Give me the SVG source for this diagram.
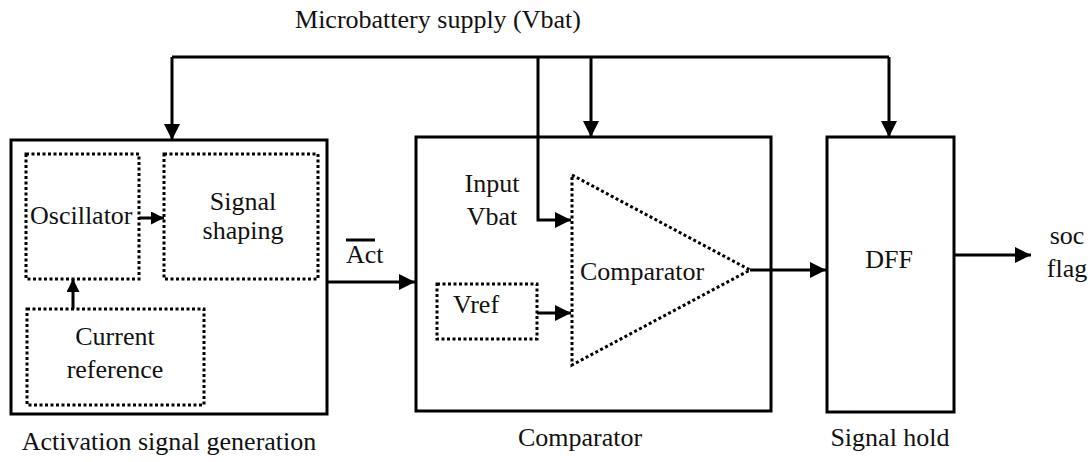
<svg xmlns="http://www.w3.org/2000/svg" width="1090" height="462" viewBox="0 0 1090 462">
<style>
text{font-family:"Liberation Serif","Times New Roman",serif;font-size:26px;fill:#111}
.box{fill:#fff;stroke:#000;stroke-width:3}
.dot{fill:none;stroke:#000;stroke-width:3;stroke-dasharray:3 2.5}
.w{fill:none;stroke:#000;stroke-width:3}
.m{text-anchor:middle}
</style>
<defs>
<marker id="a" markerUnits="userSpaceOnUse" markerWidth="18" markerHeight="18" refX="16" refY="8" orient="auto"><path d="M0,0 L16,8 L0,16 Z" fill="#000"/></marker>
<marker id="s" markerUnits="userSpaceOnUse" markerWidth="14" markerHeight="14" refX="13" refY="6.5" orient="auto"><path d="M0,0 L13,6.5 L0,13 Z" fill="#000"/></marker>
</defs>
<text class="m" x="438" y="28">Microbattery supply (Vbat)</text>
<g id="activation">
<rect class="box" x="11" y="140" width="316" height="274" stroke-width="4"/>
<text class="m" x="169" y="450">Activation signal generation</text>
</g>
<g id="oscillator"><rect class="dot" x="26" y="154" width="113" height="125"/><text x="30" y="224">Oscillator</text></g>
<g id="signal-shaping"><rect class="dot" x="164" y="154" width="154" height="125"/><text class="m" x="243" y="210">Signal</text><text class="m" x="243" y="239">shaping</text></g>
<g id="current-reference"><rect class="dot" x="27" y="309" width="177" height="96"/><text class="m" x="115" y="345">Current</text><text class="m" x="115" y="378">reference</text></g>
<g id="comparator-block">
<rect class="box" x="416" y="137" width="355" height="274"/>
<text class="m" x="580" y="446">Comparator</text>
<text class="m" x="492" y="192">Input</text><text class="m" x="492" y="225">Vbat</text>
</g>
<g id="vref"><rect class="dot" x="437" y="284" width="100" height="55"/><text x="453" y="313">Vref</text></g>
<g id="comparator"><path class="dot" d="M572,175 L750,270 L572,365 Z"/><text x="580" y="280">Comparator</text></g>
<g id="dff"><rect class="box" x="827" y="137" width="127" height="275"/><text class="m" x="889" y="268">DFF</text><text class="m" x="890" y="446">Signal hold</text></g>
<g id="output-label"><text class="m" x="1067" y="244">soc</text><text class="m" x="1067" y="277">flag</text></g>
<g id="act-label"><text x="346" y="263">Act</text><line class="w" x1="346" y1="240" x2="375" y2="240" stroke-width="2"/></g>
<g id="connectors">
<path class="w" d="M172,57 H889"/>
<path class="w" d="M172,57 V140" marker-end="url(#a)"/>
<path class="w" d="M591,57 V137" marker-end="url(#a)"/>
<path class="w" d="M889,57 V137" marker-end="url(#a)"/>
<path class="w" d="M538,57 V220 H571" marker-end="url(#a)"/>
<path class="w" d="M537,313 H571" marker-end="url(#a)"/>
<path class="w" d="M327,282 H415" marker-end="url(#a)"/>
<path class="w" d="M750,270 H826" marker-end="url(#a)"/>
<path class="w" d="M954,255 H1031" marker-end="url(#a)"/>
<path class="w" d="M139,218 H164" marker-end="url(#s)"/>
<path class="w" d="M73,309 V279" marker-end="url(#s)"/>
</g>
</svg>
